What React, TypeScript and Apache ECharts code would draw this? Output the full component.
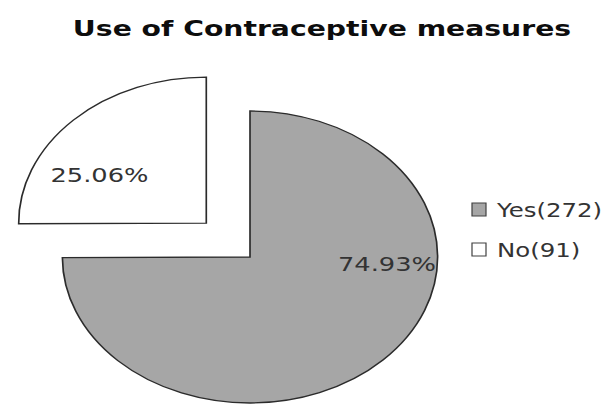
import React, { useEffect, useRef } from "react";
import * as echarts from "echarts";

// ---- data ----
const categories = ["Yes", "No"];
const counts = [272, 91];
const percentLabels = ["74.93%", "25.06%"];
const titleText = "Use of Contraceptive measures";

// ---- styles / layout ----
const sliceColors = ["#A6A6A6", "#FFFFFF"];
const CX = 250;
const CY = 257;
const R = 146;
const SX = 1.285; // horizontal stretch of the whole picture
const explode = [0, 48];
const labelPolar = [
  { angle: 3.8, dist: 106.8 },
  { angle: 210, dist: 96 },
];

export default function App() {
  const ref = useRef<HTMLDivElement>(null);
  useEffect(() => {
    if (!ref.current) return;
    const chart = echarts.init(ref.current, null, { renderer: "svg" });
    const total = counts.reduce((a, b) => a + b, 0);
    const font = "DejaVu Sans";

    const legendItems: any[] = [];
    categories.forEach((c, i) => {
      const y0 = 203 + i * 40;
      legendItems.push({
        type: "rect",
        shape: { x: 472, y: y0, width: 14, height: 13 },
        style: { fill: sliceColors[i], stroke: "#404040", lineWidth: 1.2 },
      });
      legendItems.push({
        type: "text",
        x: 497,
        y: y0 + 7,
        scaleX: SX,
        style: {
          text: `${c}(${counts[i]})`,
          fontFamily: font,
          fontSize: 19,
          fill: "#333333",
          align: "left",
          verticalAlign: "middle",
        },
      });
    });

    chart.setOption({
      animation: false,
      backgroundColor: "#ffffff",
      graphic: [
        {
          type: "text",
          x: 322,
          y: 28,
          scaleX: SX,
          style: {
            text: titleText,
            fontFamily: font,
            fontWeight: "bold",
            fontSize: 22,
            fill: "#0d0d0d",
            align: "center",
            verticalAlign: "middle",
          },
        },
        ...legendItems,
      ],
      series: [
        {
          type: "custom",
          coordinateSystem: "none",
          data: counts.map((v, i) => ({ value: v, name: categories[i] })),
          renderItem: (params: any) => {
            const i = params.dataIndex;
            const before = counts.slice(0, i).reduce((a, b) => a + b, 0);
            const start = -Math.PI / 2 + (before / total) * Math.PI * 2;
            const end = start + (counts[i] / total) * Math.PI * 2;
            const mid = (start + end) / 2;
            const ox = explode[i] * Math.cos(mid);
            const oy = explode[i] * Math.sin(mid);
            const la = (labelPolar[i].angle * Math.PI) / 180;
            const lx = ox + labelPolar[i].dist * Math.cos(la);
            const ly = oy + labelPolar[i].dist * Math.sin(la);
            return {
              type: "group",
              children: [
                {
                  type: "group",
                  x: CX,
                  y: CY,
                  scaleX: SX,
                  children: [
                    {
                      type: "sector",
                      shape: { cx: ox, cy: oy, r: R, r0: 0, startAngle: start, endAngle: end, clockwise: true },
                      style: { fill: sliceColors[i], stroke: "#2b2b2b", lineWidth: 1.3, strokeNoScale: true },
                    },
                  ],
                },
                {
                  type: "text",
                  x: CX + SX * lx,
                  y: CY + ly,
                  scaleX: SX,
                  style: {
                    text: percentLabels[i],
                    fontFamily: font,
                    fontSize: 20,
                    fill: "#333333",
                    align: "center",
                    verticalAlign: "middle",
                  },
                },
              ],
            };
          },
        },
      ],
    });
    return () => chart.dispose();
  }, []);
  return (
    <div
      ref={ref}
      style={{ position: "fixed", left: 0, top: 0, width: 612, height: 405 }}
    />
  );
}
